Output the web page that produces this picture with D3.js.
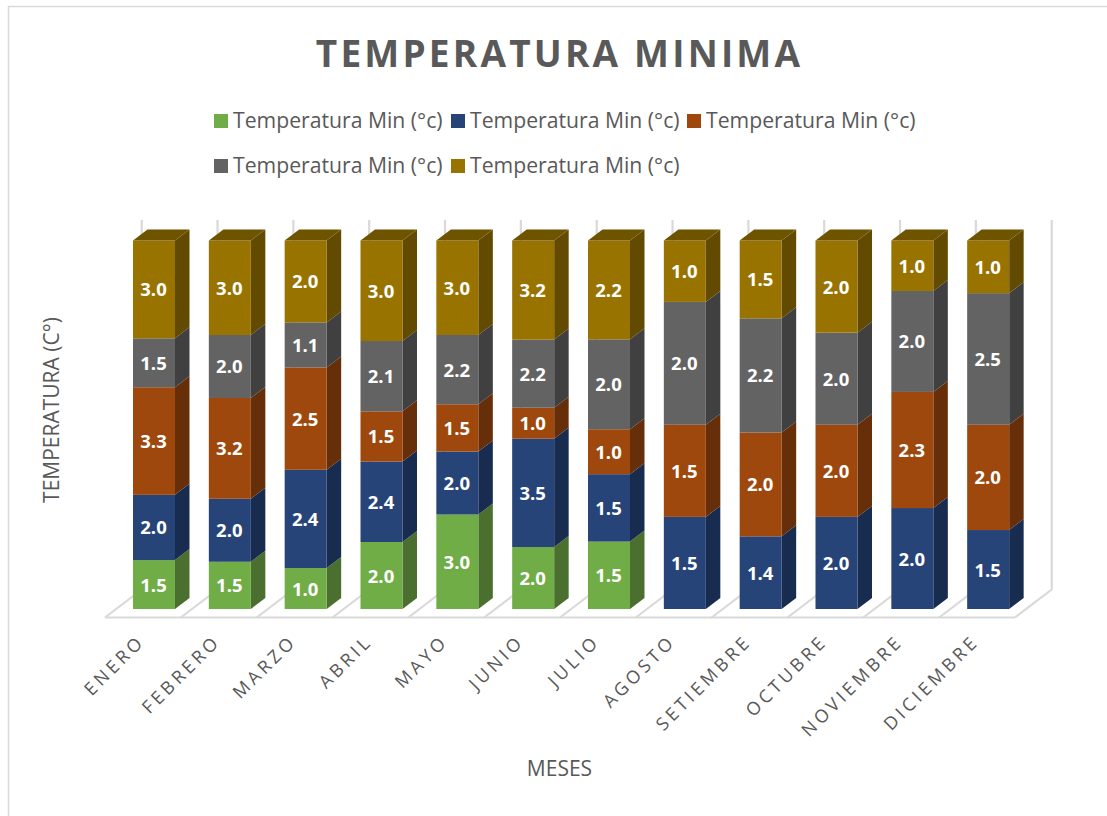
<!DOCTYPE html>
<html>
<head>
<meta charset="utf-8">
<script src="https://cdn.jsdelivr.net/npm/d3@7"></script>
<style>
  html, body { margin: 0; padding: 0; background: #fff; overflow: hidden; }
  text { font-family: "Open Sans", sans-serif; }
</style>
</head>
<body>
<div id="chart"></div>
<script>
const months = ["ENERO", "FEBRERO", "MARZO", "ABRIL", "MAYO", "JUNIO", "JULIO", "AGOSTO", "SETIEMBRE", "OCTUBRE", "NOVIEMBRE", "DICIEMBRE"];
const seriesKeys = ["s1", "s2", "s3", "s4", "s5"];
const seriesName = "Temperatura Min (°c)";
const s1 = [1.5, 1.5, 1.0, 2.0, 3.0, 2.0, 1.5, 0, 0, 0, 0, 0];
const s2 = [2.0, 2.0, 2.4, 2.4, 2.0, 3.5, 1.5, 1.5, 1.4, 2.0, 2.0, 1.5];
const s3 = [3.3, 3.2, 2.5, 1.5, 1.5, 1.0, 1.0, 1.5, 2.0, 2.0, 2.3, 2.0];
const s4 = [1.5, 2.0, 1.1, 2.1, 2.2, 2.2, 2.0, 2.0, 2.2, 2.0, 2.0, 2.5];
const s5 = [3.0, 3.0, 2.0, 3.0, 3.0, 3.2, 2.2, 1.0, 1.5, 2.0, 1.0, 1.0];
const front = ["#70ad47", "#264478", "#9e480e", "#636363", "#997300"];
const side = ["#4a6f2e", "#182c50", "#672f09", "#404040", "#624a00"];
const topFace = "#6f5400";

const WIDTH = 1107, HEIGHT = 816;
const DEPTH_X = 14.5, DEPTH_Y = 11; // oblique offset of the bar sides
const WALL_X = 36.7, WALL_Y = 28;   // floor depth
const BAR_INSET = 28, BAR_W = 42;

const table = months.map((m, i) => ({ month: m, s1: s1[i], s2: s2[i], s3: s3[i], s4: s4[i], s5: s5[i] }));
const stacked = d3.stack().keys(seriesKeys).offset(d3.stackOffsetExpand)(table);

const x = d3.scaleBand().domain(months).range([105, 1015]);
const y = d3.scaleLinear().domain([0, 1]).range([609, 240.5]);
const floorY = 617.5, wallTop = 220;

const svg = d3.select("#chart").append("svg")
  .attr("width", WIDTH).attr("height", HEIGHT).attr("viewBox", `0 0 ${WIDTH} ${HEIGHT}`)
  .style("display", "block");

// outer frame
svg.append("rect").attr("x", 8.5).attr("y", 6.5).attr("width", WIDTH).attr("height", HEIGHT)
  .attr("fill", "#fff").attr("stroke", "#d9d9d9").attr("stroke-width", 1.5);

svg.append("text").attr("x", 559.5).attr("y", 67).attr("text-anchor", "middle")
  .style("font-size", "37px").style("font-weight", 700).style("letter-spacing", "3.2px")
  .attr("fill", "#595959").text("TEMPERATURA MINIMA");

// legend
const legendPos = [[214, 114], [451, 114], [687, 114], [214, 159], [451, 159]];
const legend = svg.append("g").selectAll("g").data(seriesKeys).join("g")
  .attr("transform", (d, i) => `translate(${legendPos[i][0]},${legendPos[i][1]})`);
legend.append("rect").attr("width", 14).attr("height", 14).attr("fill", (d, i) => front[i]);
legend.append("text").attr("x", 19).attr("y", 14).style("font-size", "21.2px")
  .attr("fill", "#595959").text(seriesName);

// floor and wall ticks
const grid = svg.append("g").attr("fill", "none").attr("stroke", "#d9d9d9").attr("stroke-width", 2.2);
const edges = months.map(m => x(m)).concat(x.range()[1]);
grid.selectAll("path.tick").data(edges).join("path").attr("class", "tick")
  .attr("d", d => `M${d},${floorY}L${d + WALL_X},${floorY - WALL_Y}V${wallTop}`);
grid.append("path").attr("d", `M${x.range()[0]},${floorY}H${x.range()[1]}`);

// bars, left to right so the sides overlap properly
const bars = svg.append("g");
months.forEach((m, i) => {
  const g = bars.append("g");
  const x0 = x(m) + BAR_INSET, x1 = x0 + BAR_W;
  stacked.forEach((layer, k) => {
    const [v0, v1] = layer[i];
    if (v1 - v0 <= 0) return;
    const yb = y(v0), yt = y(v1);
    g.append("path").attr("fill", side[k])
      .attr("d", `M${x1},${yb}L${x1 + DEPTH_X},${yb - DEPTH_Y}V${yt - DEPTH_Y}L${x1},${yt}Z`);
    g.append("rect").attr("x", x0).attr("y", yt).attr("width", BAR_W).attr("height", yb - yt).attr("fill", front[k]);
    if (k === stacked.length - 1) {
      g.append("path").attr("fill", topFace)
        .attr("d", `M${x0},${yt}L${x0 + DEPTH_X},${yt - DEPTH_Y}H${x1 + DEPTH_X}L${x1},${yt}Z`);
    }
    g.append("text").attr("x", (x0 + x1) / 2 - 0.5).attr("y", (yb + yt) / 2 + 7)
      .attr("text-anchor", "middle").style("font-size", "18.5px").style("font-weight", 700)
      .attr("fill", "#fff").text(table[i][seriesKeys[k]].toFixed(1));
  });
});

// category axis, labels turned 45 degrees
const axis = svg.append("g").attr("transform", `translate(0,${floorY})`)
  .call(d3.axisBottom(x).tickSize(0));
axis.select(".domain").remove();
axis.selectAll("text")
  .attr("text-anchor", "end").attr("dx", 0).attr("dy", 0)
  .attr("transform", "translate(3,25) rotate(-45)")
  .attr("y", 0).attr("x", 0)
  .style("font-family", '"Open Sans", sans-serif').style("font-size", "18px")
  .style("letter-spacing", "3.6px").attr("fill", "#595959");

svg.append("text").attr("x", 559.5).attr("y", 776).attr("text-anchor", "middle")
  .style("font-size", "21px").attr("fill", "#595959").text("MESES");
svg.append("text").attr("transform", "translate(58.5,410) rotate(-90)").attr("text-anchor", "middle")
  .style("font-size", "21px").attr("fill", "#595959").text("TEMPERATURA (C°)");
</script>
</body>
</html>
